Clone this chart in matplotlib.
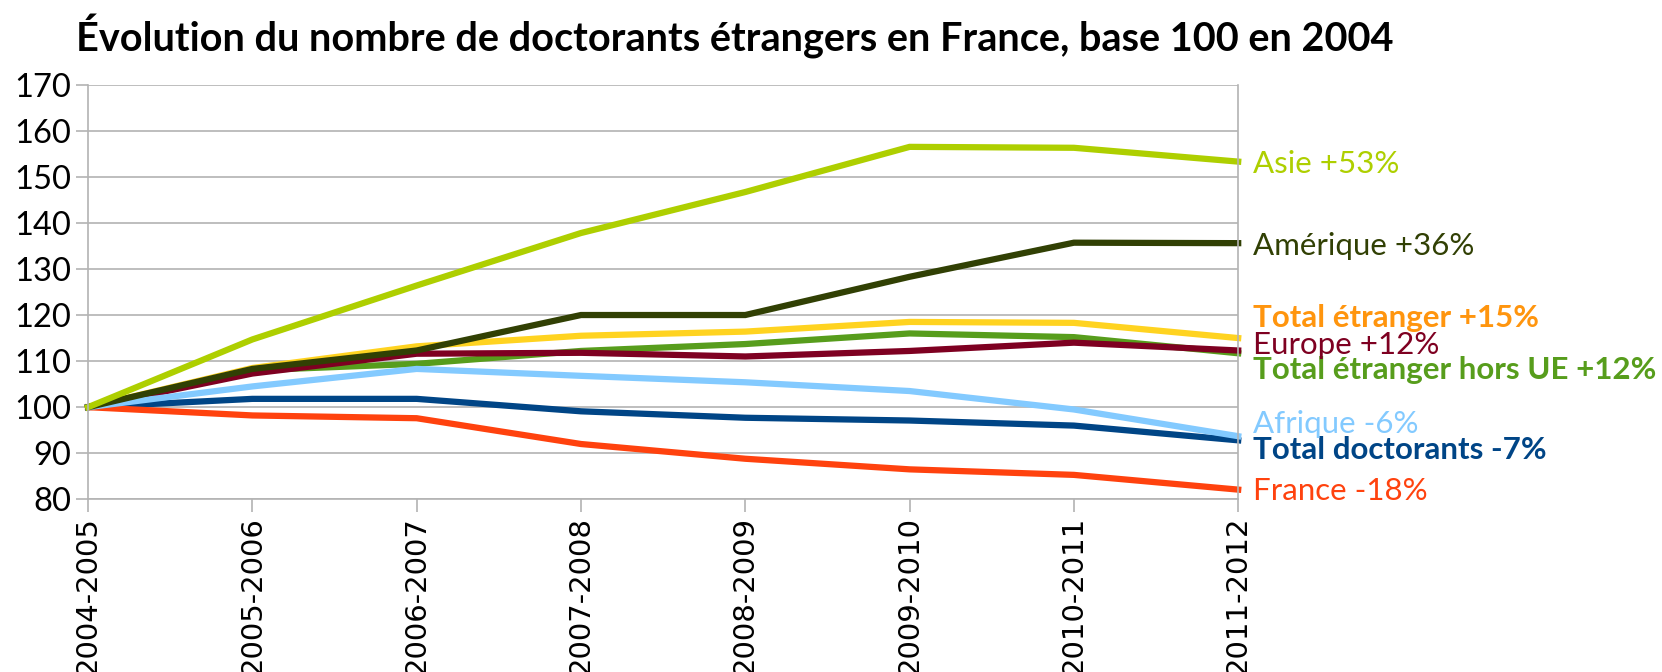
import matplotlib.pyplot as plt

years = ["2004-2005", "2005-2006", "2006-2007", "2007-2008",
         "2008-2009", "2009-2010", "2010-2011", "2011-2012"]

# series in drawing order (LibreOffice default palette order)
total_doct = [100, 101.8, 101.8, 99.1, 97.7, 97.1, 96.0, 92.8]
france = [100, 98.2, 97.6, 92.0, 88.8, 86.5, 85.3, 82.1]
total_etr = [100, 108.5, 113.2, 115.5, 116.4, 118.5, 118.3, 115.0]
hors_ue = [100, 108.0, 109.4, 112.2, 113.7, 116.0, 115.2, 111.7]
europe = [100, 107.3, 111.6, 111.8, 111.0, 112.2, 114.0, 112.3]
afrique = [100, 104.5, 108.3, 106.8, 105.4, 103.5, 99.5, 93.7]
amerique = [100, 108.3, 112.3, 120.0, 120.0, 128.3, 135.7, 135.6]
asie = [100, 114.7, 126.4, 137.8, 146.7, 156.5, 156.3, 153.3]

series = [total_doct, france, total_etr, hors_ue, europe, afrique, amerique, asie]
line_colors = ["#004586", "#ff420e", "#ffd320", "#579d1c", "#7e0021", "#83caff", "#314004", "#aecf00"]

labels = ["Total doctorants -7%", "France -18%", "Total étranger +15%",
          "Total étranger hors UE +12%", "Europe +12%", "Afrique -6%",
          "Amérique +36%", "Asie +53%"]
label_colors = ["#004586", "#ff420e", "#ff950e", "#579d1c", "#7e0021", "#83caff", "#314004", "#aecf00"]
label_bold = [True, False, True, True, False, False, False, False]
label_y = [90.8, 81.8, 119.3, 108.0, 113.5, 96.3, 135.0, 152.7]

fig = plt.figure(figsize=(16.62, 6.72), dpi=100)
ax = fig.add_axes([0.053, 0.257, 0.692, 0.617])

x = list(range(len(years)))
for vals, c in zip(series, line_colors):
    ax.plot(x, vals, color=c, lw=4.5, solid_joinstyle="miter", clip_on=False)

for txt, c, b, yy in zip(labels, label_colors, label_bold, label_y):
    ax.text(x[-1] + 0.09, yy, txt, color=c, fontsize=22.5, family="Lato",
            fontweight="bold" if b else "normal", va="center", ha="left")

ax.set_xlim(0, len(years) - 1)
ax.set_ylim(80, 170)
ax.set_yticks(range(80, 171, 10))
ax.set_xticks(x)
ax.set_xticklabels(years, rotation=90, fontsize=21, family="DejaVu Sans")
for t in ax.get_yticklabels():
    t.set_family("Lato")
    t.set_fontsize(23.5)
ax.grid(axis="y", color="#b3b3b3", lw=1.2)
ax.tick_params(axis="both", color="#b3b3b3", length=9, width=1.2, pad=3)
for s in ax.spines.values():
    s.set_color("#b3b3b3")
    s.set_linewidth(1.2)
ax.spines["top"].set_visible(False)

fig.text(0.046, 0.945, "Évolution du nombre de doctorants étrangers en France, base 100 en 2004",
         fontsize=28.5, fontweight="bold", family="Lato", va="center", ha="left")

fig.savefig("out.png", dpi=100)
